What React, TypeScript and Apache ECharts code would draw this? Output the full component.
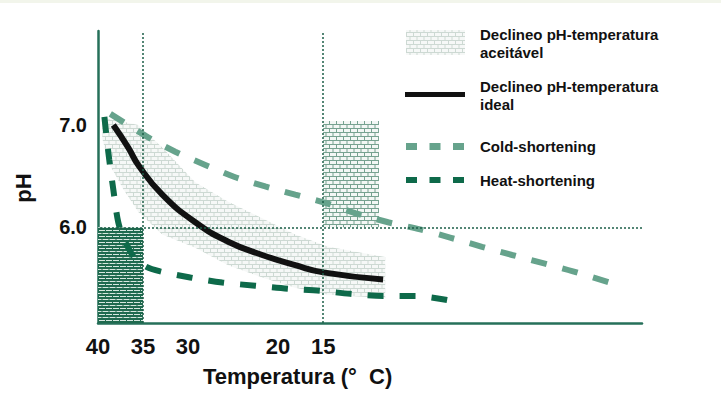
import React, { useEffect, useRef } from "react";
import * as echarts from "echarts";

// temperature ticks (°C) and pH ticks
const xTicks = [40, 35, 30, 20, 15];
const yTicks = [6.0, 7.0];
const referenceTemps = [35, 15];
const referencePh = [6.0];

// [temperature, pH]
const idealDecline = [
  [38.3, 7.0], [36.64, 6.78], [35.53, 6.61], [32.86, 6.32], [29.2, 6.05],
  [25.54, 5.86], [21.77, 5.73], [18.1, 5.63], [15.0, 5.56], [8.34, 5.49],
];
const acceptableUpper = [
  [39.52, 7.07], [38.08, 7.05], [35.53, 7.0], [32.86, 6.78], [29.2, 6.44],
  [25.54, 6.25], [21.77, 6.09], [18.1, 5.93], [14.44, 5.81], [8.11, 5.71],
];
const acceptableLower = [
  [39.52, 6.87], [38.86, 6.64], [37.3, 6.39], [35.53, 6.15], [32.86, 5.93],
  [29.2, 5.8], [25.54, 5.63], [21.77, 5.51], [18.1, 5.41], [14.44, 5.34],
  [8.11, 5.31],
];
const coldShortening = [
  [38.63, 7.11], [34.42, 6.88], [31.42, 6.74], [28.09, 6.61], [24.76, 6.49],
  [21.43, 6.4], [18.1, 6.32], [14.77, 6.24], [11.44, 6.14], [7.78, 6.05],
  [4.23, 5.98], [0.9, 5.9], [-2.65, 5.81], [-5.98, 5.73], [-9.42, 5.65],
  [-12.75, 5.57], [-17.19, 5.45],
];
const heatShortening = [
  [39.29, 7.08], [39.07, 6.9], [38.75, 6.66], [38.3, 6.37], [37.75, 6.05],
  [37.08, 5.88], [36.08, 5.72], [34.75, 5.62], [33.09, 5.57], [29.76, 5.51],
  [26.2, 5.46], [22.54, 5.43], [18.88, 5.4], [15.33, 5.38], [12.0, 5.35],
  [8.34, 5.33], [4.78, 5.33], [1.23, 5.29],
];
// [temp from, temp to, pH from, pH to]
const hotZone = [40, 35, 5.065, 6.0];
const coldZone = [15, 8.8, 6.0, 7.04];

const FONT = "'Liberation Sans', Arial, Helvetica, sans-serif";
const AXIS_GREEN = "#26705a";
const DOT_GREEN = "#1d5f48";
const COLD = "#66a38c";
const HEAT = "#0e6a4a";

function brickPattern(bg: string, line: string, w: number, h: number, row: number) {
  const c = document.createElement("canvas");
  c.width = w;
  c.height = h * 2;
  const ctx = c.getContext("2d")!;
  ctx.fillStyle = bg;
  ctx.fillRect(0, 0, w, h * 2);
  ctx.fillStyle = line;
  ctx.fillRect(0, 0, w, row);
  ctx.fillRect(0, h, w, row);
  ctx.fillRect(0, 0, 1, h);
  ctx.fillRect(w / 2, h, 1, h);
  return { image: c, repeat: "repeat", imageWidth: w, imageHeight: h * 2 };
}

const App: React.FC = () => {
  const chartRef = useRef<HTMLDivElement>(null);

  useEffect(() => {
    document.body.style.margin = "0";
    if (!chartRef.current) return;
    const chart = echarts.init(chartRef.current, undefined, { renderer: "svg" });

    const bandFill = brickPattern("#f6f8f7", "#cdd9d3", 7, 4, 1);
    const hotFill = brickPattern("#d6e7df", "#1f6a4f", 7, 3, 2);
    const coldFill = brickPattern("#f3f7f5", "#76a290", 7, 4, 1);

    const zoneRender = (fill: any) => (params: any, api: any) => {
      const a = api.coord([api.value(0), api.value(3)]);
      const b = api.coord([api.value(1), api.value(2)]);
      return {
        type: "rect",
        shape: {
          x: Math.min(a[0], b[0]),
          y: Math.min(a[1], b[1]),
          width: Math.abs(b[0] - a[0]),
          height: Math.abs(b[1] - a[1]),
        },
        style: { fill },
      };
    };

    const textStyle = (size: number) => `bold ${size}px ${FONT}`;

    const option: any = {
      animation: false,
      backgroundColor: "#ffffff",
      grid: { left: 98, right: 79, top: 31, bottom: 77 },
      xAxis: {
        type: "value",
        inverse: true,
        min: -20.41,
        max: 40,
        axisLine: { onZero: false, lineStyle: { color: AXIS_GREEN, width: 2.5 } },
        axisTick: { show: false },
        splitLine: { show: false },
        axisLabel: {
          customValues: xTicks,
          color: "#111",
          fontFamily: FONT,
          fontWeight: "bold",
          fontSize: 22,
          margin: 12,
        },
      },
      yAxis: {
        type: "value",
        min: 5.065,
        max: 7.92,
        axisLine: { show: true, onZero: false, lineStyle: { color: AXIS_GREEN, width: 2.5 } },
        axisTick: { show: false },
        splitLine: { show: false },
        axisLabel: {
          customValues: yTicks,
          formatter: (v: number) => v.toFixed(1),
          color: "#111",
          fontFamily: FONT,
          fontWeight: "bold",
          fontSize: 20,
          margin: 11,
        },
      },
      series: [
        {
          name: "Declineo pH-temperatura aceitável",
          type: "custom",
          silent: true,
          z: 1,
          data: [acceptableUpper[0]],
          renderItem: (params: any, api: any) => {
            const pts = [...acceptableUpper, ...acceptableLower.slice().reverse()].map(
              (p) => api.coord(p)
            );
            return { type: "polygon", shape: { points: pts }, style: { fill: bandFill } };
          },
        },
        {
          type: "custom",
          silent: true,
          z: 1,
          encode: { x: [0, 1], y: [2, 3] },
          data: [hotZone],
          renderItem: zoneRender(hotFill),
        },
        {
          type: "custom",
          silent: true,
          z: 1,
          encode: { x: [0, 1], y: [2, 3] },
          data: [coldZone],
          renderItem: zoneRender(coldFill),
        },
        {
          name: "Declineo pH-temperatura ideal",
          type: "line",
          z: 4,
          smooth: 0.5,
          symbol: "none",
          lineStyle: { color: "#111", width: 6 },
          data: idealDecline,
          markLine: {
            silent: true,
            symbol: "none",
            label: { show: false },
            lineStyle: { color: DOT_GREEN, width: 1.5, type: [2, 2] },
            data: [
              ...referenceTemps.map((t) => ({ xAxis: t })),
              ...referencePh.map((p) => ({ yAxis: p })),
            ],
          },
        },
        {
          name: "Cold-shortening",
          type: "line",
          z: 3,
          smooth: 0.3,
          symbol: "none",
          lineStyle: { color: COLD, width: 6, type: [16, 16], cap: "butt" },
          data: coldShortening,
        },
        {
          name: "Heat-shortening",
          type: "line",
          z: 3,
          smooth: 0.3,
          symbol: "none",
          lineStyle: { color: HEAT, width: 6, type: [16, 16], cap: "butt" },
          data: heatShortening,
        },
      ],
      graphic: [
        { type: "rect", left: 0, top: 0, shape: { width: 721, height: 3 }, style: { fill: "#f2f5eb" } },
        {
          type: "text",
          x: 203,
          y: 376,
          style: { text: "Temperatura (°  C)", font: textStyle(22), fill: "#111", verticalAlign: "middle" },
        },
        {
          type: "text",
          x: 23,
          y: 188,
          rotation: Math.PI / 2,
          style: { text: "pH", font: textStyle(22), fill: "#111", align: "center", verticalAlign: "middle" },
        },
        // legend
        { type: "rect", shape: { x: 406, y: 30, width: 59, height: 25 }, style: { fill: bandFill } },
        {
          type: "text",
          x: 480,
          y: 25,
          style: {
            text: "Declineo pH-temperatura\naceitável",
            font: textStyle(15),
            lineHeight: 18,
            fill: "#111",
            verticalAlign: "top",
          },
        },
        { type: "rect", shape: { x: 405, y: 92, width: 60, height: 5 }, style: { fill: "#111" } },
        {
          type: "text",
          x: 480,
          y: 77,
          style: {
            text: "Declineo pH-temperatura\nideal",
            font: textStyle(15),
            lineHeight: 18,
            fill: "#111",
            verticalAlign: "top",
          },
        },
        {
          type: "line",
          shape: { x1: 406, y1: 146.5, x2: 465, y2: 146.5 },
          style: { stroke: COLD, lineWidth: 7, lineDash: [11, 12.5] },
        },
        {
          type: "text",
          x: 480,
          y: 146,
          style: { text: "Cold-shortening", font: textStyle(15), fill: "#111", verticalAlign: "middle" },
        },
        {
          type: "line",
          shape: { x1: 406, y1: 180, x2: 465, y2: 180 },
          style: { stroke: HEAT, lineWidth: 6, lineDash: [11, 12.5] },
        },
        {
          type: "text",
          x: 480,
          y: 180,
          style: { text: "Heat-shortening", font: textStyle(15), fill: "#111", verticalAlign: "middle" },
        },
      ],
    };

    chart.setOption(option);
    return () => chart.dispose();
  }, []);

  return <div ref={chartRef} style={{ width: 721, height: 400 }} />;
};

export default App;
